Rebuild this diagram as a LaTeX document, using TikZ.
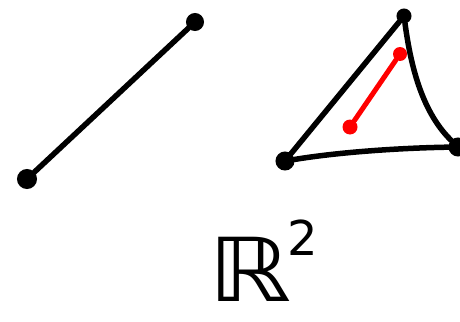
\documentclass[tikz,border=0pt]{standalone}
\usepackage{fontspec}
\newfontfamily\djv{DejaVu Sans}
\begin{document}
\begin{tikzpicture}[x=1pt,y=-1pt,
  ink/.style={line width=5.5pt,line cap=round,line join=round,black},
  redink/.style={line width=5pt,line cap=round,red},
  blob/.style={circle,draw=black,fill=black,line width=3pt,inner sep=0pt,minimum size=#1},
  reddot/.style={circle,fill=red,inner sep=0pt,minimum size=#1}]
\useasboundingbox (0,0) rectangle (460,321);
% segment
\node[blob=17pt] (a) at (27,179) {};
\node[blob=15pt] (b) at (195,22) {};
\draw[ink] (a) -- (b);
% triangle
\node[blob=12pt] (t) at (404,16) {};
\node[blob=16pt] (l) at (285,161) {};
\node[blob=16pt] (r) at (458,147) {};
\draw[ink] (t) -- (l);
\draw[ink] (t) .. controls (410,60) and (420,110) .. (r);
\draw[ink] (l) .. controls (340,152) and (400,148) .. (r);
% red segment
\node[reddot=14pt] (p) at (400,54) {};
\node[reddot=15pt] (q) at (350,127) {};
\draw[redink] (p) -- (q);
% label
\node[anchor=base west,inner sep=0pt] (lab) at (208,301) {\djv\fontsize{84}{84}\selectfont \scalebox{1.25}[1.05]{ℝ}\kern-4pt\raisebox{46pt}{\fontsize{48}{48}\selectfont 2}};
\end{tikzpicture}
\end{document}
